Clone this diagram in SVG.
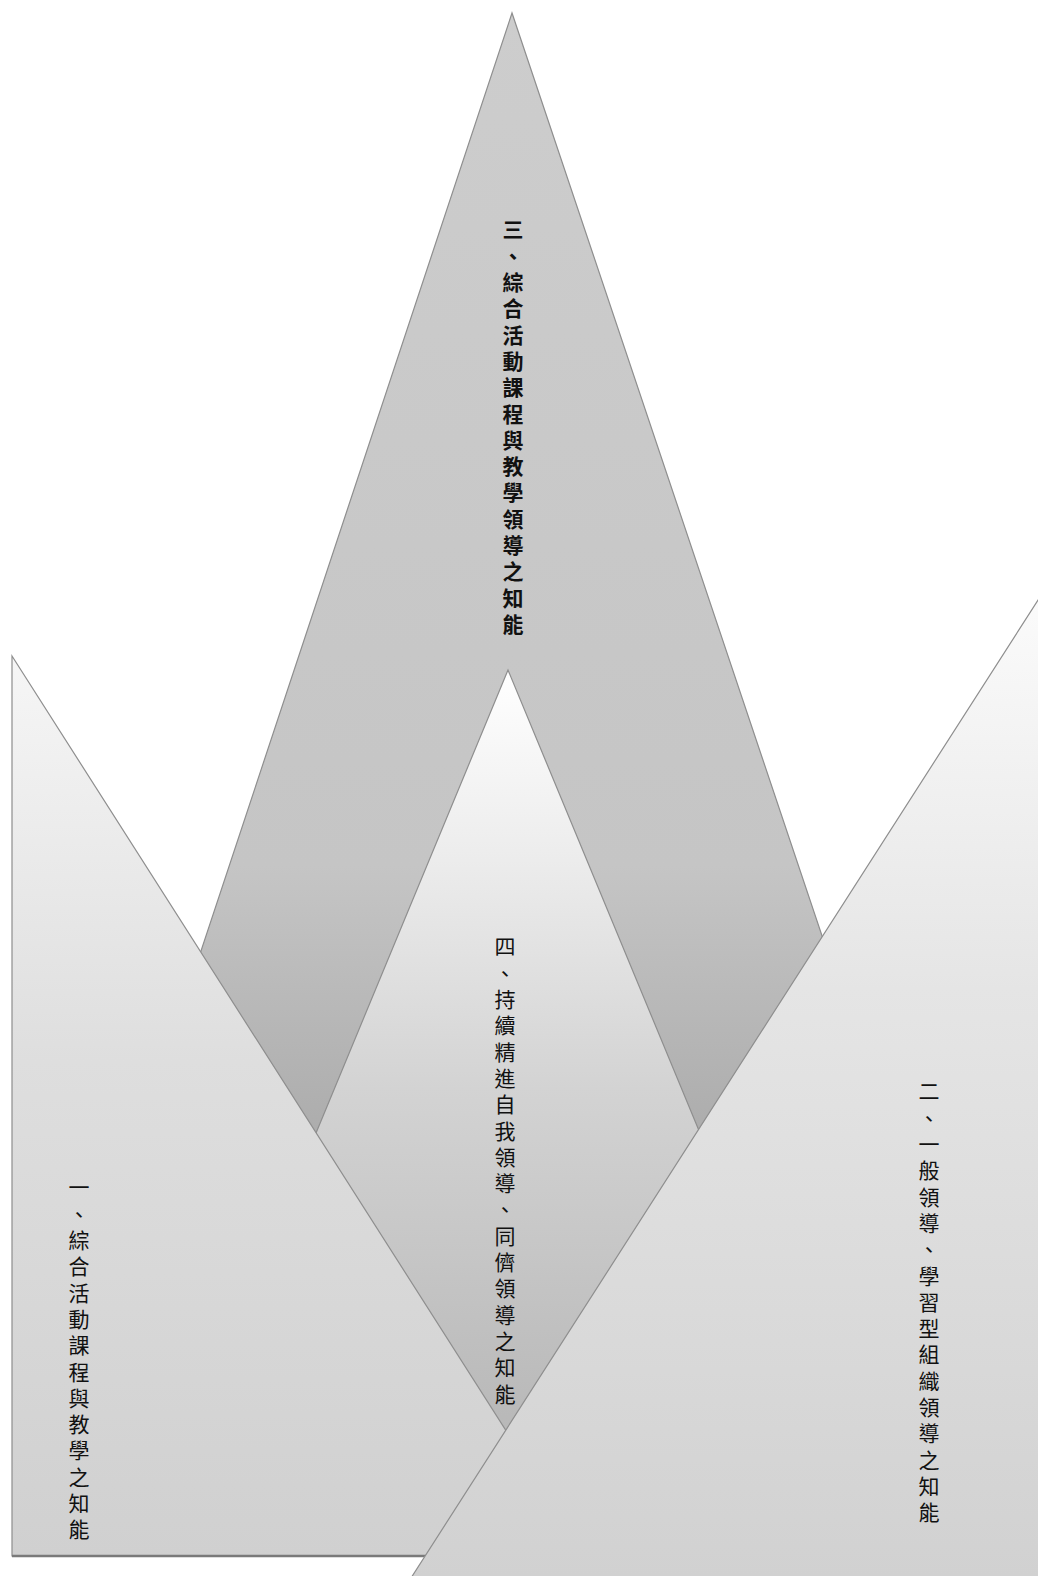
<svg xmlns="http://www.w3.org/2000/svg" width="1038" height="1576" viewBox="0 0 1038 1576">
  <defs>
    <linearGradient id="g3" gradientUnits="userSpaceOnUse" x1="0" y1="13" x2="0" y2="1150">
      <stop offset="0" stop-color="#cdcdcd"/>
      <stop offset="0.75" stop-color="#c5c5c5"/>
      <stop offset="1" stop-color="#ababab"/>
    </linearGradient>
    <linearGradient id="g4" gradientUnits="userSpaceOnUse" x1="0" y1="670" x2="0" y2="1430">
      <stop offset="0" stop-color="#ffffff"/>
      <stop offset="0.25" stop-color="#ececec"/>
      <stop offset="0.55" stop-color="#d3d3d3"/>
      <stop offset="1" stop-color="#b8b8b8"/>
    </linearGradient>
    <linearGradient id="g1" gradientUnits="userSpaceOnUse" x1="0" y1="656" x2="0" y2="1556">
      <stop offset="0" stop-color="#f6f6f6"/>
      <stop offset="0.45" stop-color="#dedede"/>
      <stop offset="1" stop-color="#d0d0d0"/>
    </linearGradient>
    <linearGradient id="g2" gradientUnits="userSpaceOnUse" x1="0" y1="597" x2="0" y2="1576">
      <stop offset="0" stop-color="#fbfbfb"/>
      <stop offset="0.4" stop-color="#e5e5e5"/>
      <stop offset="1" stop-color="#d1d1d1"/>
    </linearGradient>
  </defs>
  <style>
    .lbl { font-family: "Noto Sans CJK TC", "Noto Sans CJK SC", sans-serif; font-size: 21px; fill: #111111; writing-mode: vertical-rl; letter-spacing: 5.3px; }
    .edge { stroke: #8e8e8e; stroke-width: 1.2; }
  </style>
  <rect x="0" y="0" width="1038" height="1576" fill="#ffffff"/>

  <g id="node3">
    <polygon points="512,13 131,1162 898,1162" fill="url(#g3)" class="edge"/>
    <text class="lbl" x="513" y="219" style="font-weight:600">三、綜合活動課程與教學領導之知能</text>
  </g>

  <g id="node4">
    <polygon points="508,670 168,1490 848,1490" fill="url(#g4)" class="edge"/>
    <text class="lbl" x="505" y="936">四、持續精進自我領導、同儕領導之知能</text>
  </g>

  <g id="node1">
    <polygon points="12,656 12,1556 586,1556" fill="url(#g1)" class="edge"/>
    <line x1="12" y1="1556" x2="586" y2="1556" stroke="#7a7a7a" stroke-width="2.5"/>
    <text class="lbl" x="79" y="1177">一、綜合活動課程與教學之知能</text>
  </g>

  <g id="node2">
    <polygon points="1040,597 1040,1578 411,1578" fill="url(#g2)" class="edge"/>
    <text class="lbl" x="929" y="1081">二、一般領導、學習型組織領導之知能</text>
  </g>

  <g id="connectors"></g>
</svg>
